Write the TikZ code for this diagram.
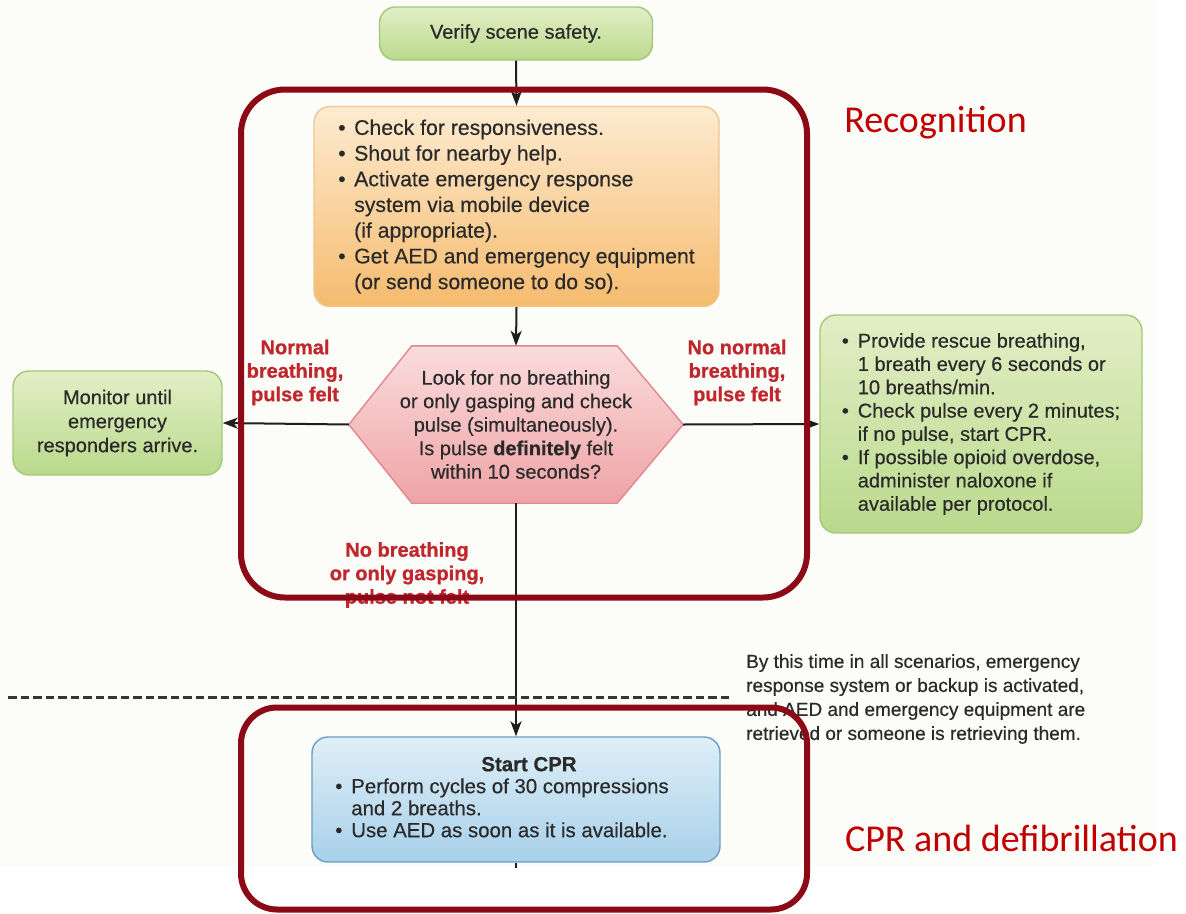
\documentclass[tikz,border=0pt]{standalone}
\usepackage{fontspec}
\setmainfont{Liberation Sans}[UprightFeatures={FakeBold=0.4}, BoldFeatures={FakeBold=0.8}]
\newfontfamily\calibrifont{Carlito}
\usetikzlibrary{arrows.meta}

\definecolor{pageTint}{HTML}{FCFCF8}
\definecolor{frameRed}{HTML}{8C0A16}
\definecolor{labelRed}{HTML}{C0272D}
\definecolor{titleRed}{HTML}{C00000}
\definecolor{lineDark}{HTML}{1E1E1E}
\definecolor{inkText}{HTML}{2A2A2A}
\definecolor{greenTop}{HTML}{E2EFC6}
\definecolor{greenBot}{HTML}{BAD98C}
\definecolor{greenLine}{HTML}{A3C878}
\definecolor{orangeTop}{HTML}{FDEBD0}
\definecolor{orangeBot}{HTML}{F5BB6E}
\definecolor{orangeLine}{HTML}{F0C68E}
\definecolor{pinkTop}{HTML}{FADCDC}
\definecolor{pinkBot}{HTML}{EFA3A6}
\definecolor{pinkLine}{HTML}{E2878E}
\definecolor{blueTop}{HTML}{DFEFF7}
\definecolor{blueBot}{HTML}{A7D0EA}
\definecolor{blueLine}{HTML}{6E9DC2}

\newcommand\bitem{\makebox[16pt][l]{\textbullet}}
\newcommand\bcont{\hspace*{16pt}}

\tikzset{
  box/.style={rounded corners=16pt, line width=1.4pt, inner sep=0pt, text=inkText,
    font=\fontsize{20}{24}\selectfont},
  greenbox/.style={box, draw=greenLine, top color=greenTop, bottom color=greenBot},
  orangebox/.style={box, draw=orangeLine, top color=orangeTop, bottom color=orangeBot},
  bluebox/.style={box, draw=blueLine, top color=blueTop, bottom color=blueBot},
  hexshape/.style={draw=pinkLine, line width=1.4pt, top color=pinkTop, bottom color=pinkBot},
  flow/.style={draw=lineDark, line width=2pt, -{Stealth[length=15pt,width=11pt,inset=4pt]}},
  plainline/.style={draw=lineDark, line width=2pt},
  cond/.style={text=labelRed, align=center, inner sep=0pt,
    font=\bfseries\fontsize{20}{23.5}\selectfont},
  frame/.style={draw=frameRed, line width=6pt, inner sep=0pt},
  section/.style={text=titleRed, inner sep=0pt, font=\calibrifont\fontsize{38}{40}\selectfont},
}

\begin{document}
\begin{tikzpicture}[x=1pt,y=-1pt]
  % page and tinted drawing area
  \fill[white] (0,0) rectangle (1186,913);
  \fill[pageTint] (0,0) rectangle (1157,866);
  \useasboundingbox (0,0) rectangle (1186,913);

  % boxes
  \node[greenbox, minimum width=273pt, minimum height=53pt] (safety) at (516,33.5)
    {Verify scene safety.};

  \node[orangebox, minimum width=405pt, minimum height=200pt, align=left,
        font=\fontsize{21.2}{25.7}\selectfont] (recog) at (516.5,206.5)
    {\bitem Check for responsiveness.\\
     \bitem Shout for nearby help.\\
     \bitem Activate emergency response\\
     \bcont system via mobile device\\
     \bcont (if appropriate).\\
     \bitem Get AED and emergency equipment\\
     \bcont (or send someone to do so).};

  % decision hexagon
  \node[minimum width=334pt, minimum height=157pt, inner sep=0pt] (hex) at (516,424.5) {};
  \path[hexshape] (hex.west) -- ([xshift=63pt]hex.north west) -- ([xshift=-66pt]hex.north east)
     -- (hex.east) -- ([xshift=-66pt]hex.south east) -- ([xshift=63pt]hex.south west) -- cycle;
  \node[align=center, text=inkText, inner sep=0pt, font=\fontsize{20}{23.5}\selectfont]
    (hextext) at (hex.center)
    {Look for no breathing\\
     or only gasping and check\\
     pulse (simultaneously).\\
     Is pulse \textbf{definitely} felt\\
     within 10 seconds?};

  \node[greenbox, minimum width=209pt, minimum height=104pt, align=center] (monitor) at (117.5,423)
    {Monitor until\\ emergency\\ responders arrive.};

  \node[greenbox, minimum width=322pt, minimum height=218pt, align=left,
        font=\fontsize{20}{23.3}\selectfont] (rescue) at (981,424)
    {\bitem Provide rescue breathing,\\
     \bcont 1 breath every 6 seconds or\\
     \bcont 10 breaths/min.\\
     \bitem Check pulse every 2 minutes;\\
     \bcont if no pulse, start CPR.\\
     \bitem If possible opioid overdose,\\
     \bcont administer naloxone if\\
     \bcont available per protocol.};

  \node[bluebox, minimum width=408pt, minimum height=125pt,
        font=\fontsize{20.4}{23.5}\selectfont] (cpr) at (516,799.5)
    {\begin{tabular}{@{}l@{\hspace{28pt}}}
       \multicolumn{1}{@{}c@{}}{\hspace*{26pt}\textbf{Start CPR}}\\[-1.5pt]
       \bitem Perform cycles of 30 compressions\\[-1.5pt]
       \bcont and 2 breaths.\\[-1.5pt]
       \bitem Use AED as soon as it is available.
     \end{tabular}};

  % branch labels
  \node[cond] (lblnormal) at (295,372.5) {Normal\\ breathing,\\ pulse felt};
  \node[cond] (lblnonormal) at (737,372.5) {No normal\\ breathing,\\ pulse felt};
  \node[cond] (lblnobreath) at (407,575) {No breathing\\ or only gasping,\\ pulse not felt};

  % connectors
  \coordinate (tail) at (516,868);
  \draw[flow] (safety.south) -- (recog.north);
  \draw[flow] (recog.south) -- (hex.north);
  \draw[flow] (hex.west) -- (monitor.east);
  \draw[flow] (hex.east) -- (rescue.west);
  \draw[flow] (hex.south) -- (cpr.north);
  \draw[plainline] (cpr.south) -- (tail);

  % activation threshold
  \coordinate (dashL) at (8,697);
  \coordinate (dashR) at (732,697);
  \draw[draw=lineDark!90, line width=3pt, dash pattern=on 8.5pt off 4pt] (dashL) -- (dashR);
  \node[anchor=west, align=left, text=inkText, inner sep=0pt,
        font=\fontsize{19}{24}\selectfont] (note) at (746,699)
    {By this time in all scenarios, emergency\\
     response system or backup is activated,\\
     and AED and emergency equipment are\\
     retrieved or someone is retrieving them.};

  % phase frames
  \node[frame, rounded corners=44pt, minimum width=566pt, minimum height=508pt]
    (recogframe) at (524,343.5) {};
  \node[frame, rounded corners=36pt, minimum width=566pt, minimum height=202pt]
    (cprframe) at (524,808.5) {};
  \node[section] (recogtitle) at (935.5,123) {Recognition};
  \node[section] (cprtitle) at (1011.5,838) {CPR and defibrillation};
\end{tikzpicture}
\end{document}
